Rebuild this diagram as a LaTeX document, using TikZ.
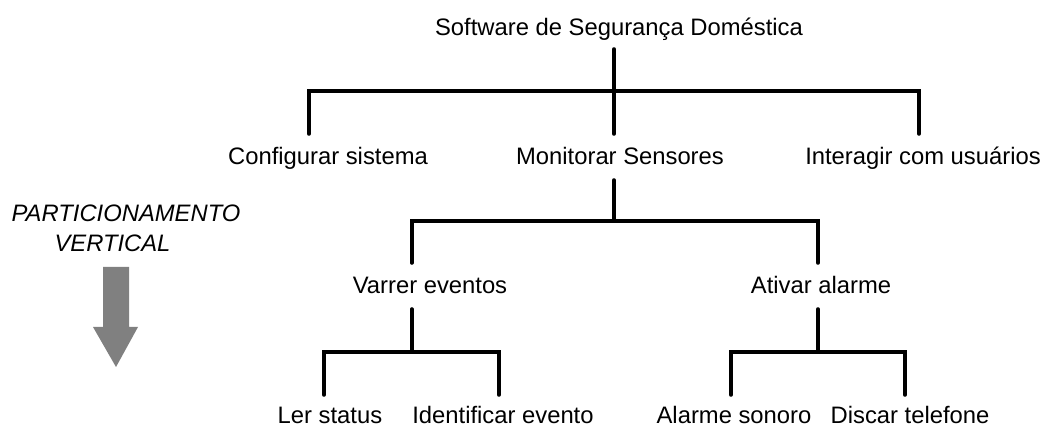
\documentclass[tikz,border=0pt]{standalone}
\usepackage{fontspec}
\setmainfont{Liberation Sans}
\definecolor{arrowgray}{RGB}{128,128,128}
\begin{document}
\begin{tikzpicture}[x=1pt,y=-1pt,
  lbl/.style={anchor=base, inner xsep=0pt, inner ysep=0pt, text height=31pt, text depth=15pt,
              font=\fontsize{23.8pt}{28pt}\selectfont},
  sidelbl/.style={anchor=base, inner sep=0pt, font=\fontsize{23.8pt}{28pt}\selectfont\itshape},
  link/.style={line width=4pt, line cap=round, line join=miter, black}]
\useasboundingbox (0,0) rectangle (1045,427);

% labels
\node[lbl, text depth=13pt] (title) at (619,36) {Software de Segurança Doméstica};
\node[lbl] (conf)  at (328,165) {Configurar sistema};
\node[lbl] (mon)   at (620,165) {Monitorar Sensores};
\node[lbl] (inter) at (923,165) {Interagir com usuários};
\node[lbl] (varr)  at (430,294) {Varrer eventos};
\node[lbl] (ativ)  at (821,294) {Ativar alarme};
\node[lbl, text height=29pt] (ler)   at (330,424) {Ler status};
\node[lbl, text height=29pt] (ident) at (503,424) {Identificar evento};
\node[lbl, text height=29pt] (alson) at (734,424) {Alarme sonoro};
\node[lbl, text height=29pt] (disc)  at (910,424) {Discar telefone};

% junctions
\coordinate (jA) at (614,91);
\coordinate (jB) at (614,221);
\coordinate (jC) at (411.7,352);
\coordinate (jD) at (818,352);

% level 1
\draw[link] (title.south -| jA) -- (mon.north -| jA);
\draw[link] ([xshift=-19pt]conf.north) |- (jA) -| ([xshift=-4pt]inter.north);
% level 2
\draw[link] (mon.south -| jB) -- (jB);
\draw[link] (varr.north -| jC) |- (jB) -| (ativ.north -| jD);
% level 3
\draw[link] (varr.south -| jC) -- (jC);
\draw[link] ([xshift=-6pt]ler.north) |- (jC) -| ([xshift=-4pt]ident.north);
\draw[link] (ativ.south -| jD) -- (jD);
\draw[link] ([xshift=-3pt]alson.north) |- (jD) -| ([xshift=-5pt]disc.north);

% side label and arrow
\node[sidelbl] (part1) at (126,222) {PARTICIONAMENTO};
\node[sidelbl] (part2) at (112.5,252) {VERTICAL};
\fill[arrowgray] (103,267) -- (129,267) -- (129,327) -- (138,327) -- (116,367)
  -- (93,327) -- (103,327) -- cycle;
\end{tikzpicture}
\end{document}
